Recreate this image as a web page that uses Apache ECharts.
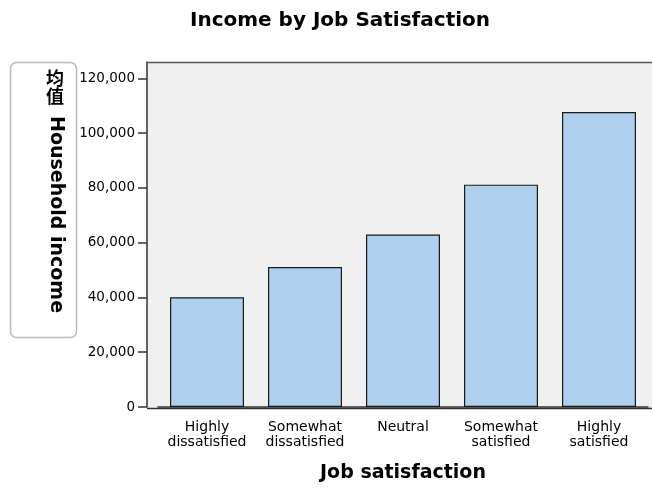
<!DOCTYPE html>
<html>
<head>
<meta charset="utf-8">
<script src="https://cdn.jsdelivr.net/npm/echarts@6/dist/echarts.min.js"></script>
<style>
  html, body { margin: 0; padding: 0; background: #fff; }
  #main { width: 652px; height: 488px; }
</style>
</head>
<body>
<div id="main"></div>
<script>
// data
var categories = ['Highly\ndissatisfied', 'Somewhat\ndissatisfied', 'Neutral', 'Somewhat\nsatisfied', 'Highly\nsatisfied'];
var meanIncome = [40100, 51100, 63000, 81200, 107700];
var yTicks = [0, 20000, 40000, 60000, 80000, 100000, 120000];

var font = '"DejaVu Sans", Verdana, sans-serif';

var myChart = echarts.init(document.getElementById('main'));
myChart.setOption({
  animation: false,
  backgroundColor: '#ffffff',
  title: {
    text: 'Income by Job Satisfaction',
    left: 335,
    top: 6,
    textAlign: 'center',
    textStyle: { fontFamily: font, fontSize: 20, fontWeight: 'bold', color: '#000' }
  },
  grid: { left: 158, right: 4, top: 62, bottom: 80 },
  graphic: [
    // plot background + frame
    { type: 'rect', z: -10, shape: { x: 147, y: 62, width: 505, height: 346 }, style: { fill: '#f0f0f0' } },
    { type: 'line', z: 10, shape: { x1: 147, y1: 62.5, x2: 652, y2: 62.5 }, style: { stroke: '#555', lineWidth: 1.5 } },
    { type: 'line', z: 10, shape: { x1: 147, y1: 408.5, x2: 652, y2: 408.5 }, style: { stroke: '#333', lineWidth: 1.5 } },
    // y axis title box
    { type: 'rect', z: 5, shape: { x: 10.5, y: 62.5, width: 66, height: 275, r: 6 }, style: { fill: '#fff', stroke: '#b8b8c6', lineWidth: 1.5 } },
    { type: 'text', z: 6, x: 55, y: 69, style: { text: '均', font: 'bold 18px "Noto Sans CJK SC"', fill: '#000', textAlign: 'center' } },
    { type: 'text', z: 6, x: 55, y: 87, style: { text: '值', font: 'bold 18px "Noto Sans CJK SC"', fill: '#000', textAlign: 'center' } },
    { type: 'text', z: 6, x: 56, y: 116, rotation: -Math.PI / 2,
      style: { text: 'Household income', font: 'bold 19px ' + font, fill: '#000', textAlign: 'left', textVerticalAlign: 'middle' } }
  ],
  xAxis: {
    type: 'category',
    data: categories,
    name: 'Job satisfaction',
    nameLocation: 'middle',
    nameGap: 57,
    nameTextStyle: { fontFamily: font, fontSize: 19, fontWeight: 'bold', color: '#000' },
    axisLine: { lineStyle: { color: '#333', width: 1.5 } },
    axisTick: { alignWithLabel: true, length: 8, lineStyle: { color: '#333', width: 1.5 } },
    axisLabel: { fontFamily: font, fontSize: 14, color: '#000', lineHeight: 15, margin: 13, interval: 0 }
  },
  yAxis: {
    type: 'value',
    min: 0,
    max: 126000,
    interval: 20000,
    offset: 11,
    splitLine: { show: false },
    axisLine: { show: true, lineStyle: { color: '#333', width: 1.5 } },
    axisTick: { show: true, length: 9, customValues: yTicks, lineStyle: { color: '#333', width: 1.5 } },
    axisLabel: {
      fontFamily: font, fontSize: 13.5, color: '#000', margin: 12,
      customValues: yTicks,
      formatter: function (v) { return v.toLocaleString('en-US'); }
    }
  },
  series: [{
    type: 'bar',
    data: meanIncome,
    barWidth: 74,
    itemStyle: { color: '#aecfed', borderColor: '#1a1a1a', borderWidth: 1.2 }
  }]
});
</script>
</body>
</html>
